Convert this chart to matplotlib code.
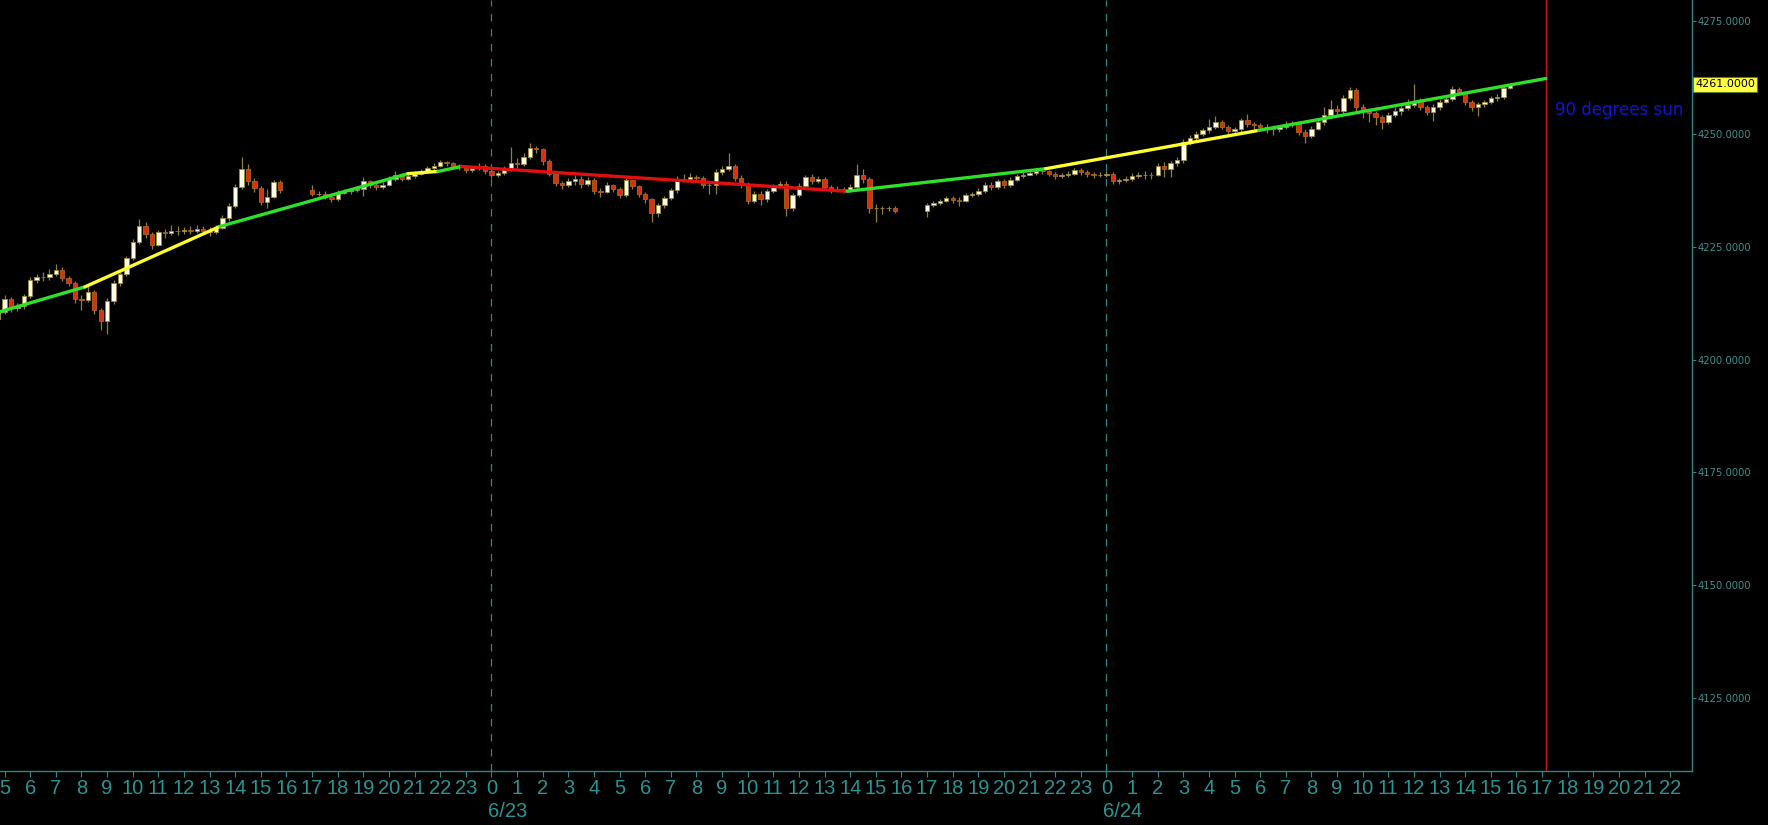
import numpy as np
import pandas as pd
import matplotlib.pyplot as plt

# 15-minute bars, time in hours counted from 6/22 00:00
bar_start = 4.75
bar_step = 0.25
first_open = 4209.0

nan = np.nan
closes = [
    4210.5, 4213.5, 4211.5, 4211.8, 4214.0, 4217.6, 4218.3, 4218.2, 4219.0,  # 4:45-6:45
    4219.8, 4218.0, 4217.0, 4213.5, 4213.3, 4215.0, 4211.0, 4208.5,  # 7-8
    4213.0, 4217.0, 4219.0, 4222.5, 4226.1, 4229.6, 4227.8, 4225.5,  # 9-10
    4228.2, 4228.0, 4228.6, 4228.4, 4228.7, 4228.5, 4229.0, 4228.6,  # 11-12
    4228.2, 4229.2, 4231.3, 4234.0, 4238.3, 4242.3, 4239.5, 4238.0,  # 13-14
    4234.9, 4236.0, 4239.4, 4237.5, nan, nan, nan, nan,  # 15-16
    4236.8, 4236.8, 4236.0, 4235.6, 4237.0, 4237.3, 4237.5, 4237.8,  # 17-18
    4239.5, 4238.8, 4238.3, 4238.8, 4240.0, 4241.0, 4240.1, 4240.6,  # 19-20
    4241.2, 4241.8, 4242.5, 4243.0, 4243.8, 4243.5, 4242.8, 4242.7,  # 21-22
    4242.0, 4242.4, 4243.0, 4241.8, 4241.0, 4241.3, 4242.3, 4243.5,  # 23-0 (6/23)
    4243.4, 4245.0, 4246.8, 4246.6, 4244.0, 4241.2, 4239.2, 4238.8,  # 1-2
    4239.6, 4240.0, 4239.0, 4239.9, 4237.3, 4237.2, 4238.6, 4237.8,  # 3-4
    4236.4, 4239.7, 4238.4, 4236.8, 4235.5, 4232.4, 4234.2, 4235.8,  # 5-6
    4237.5, 4240.1, 4240.1, 4240.5, 4240.2, 4238.8, 4238.8, 4241.6,  # 7-8
    4242.3, 4242.9, 4240.2, 4238.8, 4235.2, 4236.8, 4235.5, 4237.4,  # 9-10
    4238.4, 4238.9, 4233.5, 4236.4, 4238.5, 4240.4, 4239.5, 4240.0,  # 11-12
    4238.2, 4237.5, 4237.8, 4237.6, 4238.2, 4241.0, 4240.0, 4233.5,  # 13-14
    4233.5, 4233.5, 4233.5, 4233.0, nan, nan, nan, nan,  # 15-16
    4234.2, 4234.6, 4235.1, 4235.7, 4235.3, 4235.2, 4236.4, 4236.6,  # 17-18
    4237.4, 4238.8, 4238.2, 4239.5, 4238.6, 4239.9, 4240.6, 4241.0,  # 19-20
    4241.4, 4241.8, 4241.8, 4241.2, 4240.6, 4240.8, 4241.2, 4242.0,  # 21-22
    4241.6, 4241.1, 4240.9, 4241.0, 4241.2, 4239.6, 4239.7, 4240.1,  # 23-0 (6/24)
    4240.7, 4241.0, 4241.0, 4240.9, 4243.0, 4242.2, 4243.5, 4244.2,  # 1-2
    4248.2, 4249.2, 4250.0, 4250.8, 4251.5, 4252.7, 4251.6, 4250.6,  # 3-4
    4251.0, 4253.0, 4252.2, 4251.9, 4251.6, 4251.6, 4251.0, 4251.6,  # 5-6
    4252.3, 4252.3, 4250.5, 4249.5, 4251.2, 4252.6, 4254.2, 4255.5,  # 7-8
    4255.0, 4258.0, 4259.7, 4256.0, 4255.0, 4254.6, 4253.8, 4252.7,  # 9-10
    4254.3, 4255.2, 4255.8, 4256.5, 4257.3, 4256.0, 4254.8, 4256.0,  # 11-12
    4257.1, 4257.8, 4260.0, 4259.2, 4257.1, 4256.0, 4256.6, 4257.0,  # 13-14
    4257.9, 4258.2, 4260.2, 4260.8,  # 15
]
highs = [
    4212.2, 4214.2, 4213.9, 4212.6, 4214.6, 4218.2, 4219.0, 4219.4, 4220.0,
    4221.2, 4220.6, 4218.5, 4217.4, 4214.2, 4216.4, 4215.5, 4211.5,
    4213.6, 4217.6, 4219.5, 4223.0, 4226.8, 4231.2, 4230.4, 4228.3,
    4228.8, 4229.0, 4229.8, 4229.5, 4229.4, 4229.6, 4229.8, 4229.5,
    4229.3, 4229.8, 4232.0, 4234.8, 4238.9, 4244.9, 4243.4, 4240.2,
    4238.5, 4237.9, 4239.9, 4239.8, nan, nan, nan, nan,
    4238.6, 4237.4, 4237.3, 4236.5, 4237.6, 4237.9, 4238.0, 4238.4,
    4240.4, 4239.8, 4239.2, 4239.4, 4240.6, 4241.7, 4241.3, 4241.2,
    4241.8, 4242.3, 4243.0, 4243.6, 4244.3, 4244.1, 4243.7, 4243.3,
    4243.1, 4242.9, 4243.6, 4243.3, 4242.2, 4241.9, 4242.9, 4247.1,
    4244.6, 4245.7, 4247.9, 4247.4, 4246.9, 4244.4, 4241.6, 4239.6,
    4240.3, 4240.9, 4240.6, 4240.5, 4240.2, 4238.0, 4239.3, 4239.0,
    4238.2, 4240.4, 4239.9, 4238.7, 4237.2, 4235.8, 4234.8, 4236.3,
    4238.1, 4240.6, 4241.2, 4241.4, 4241.0, 4240.6, 4239.5, 4242.2,
    4243.0, 4245.7, 4243.4, 4240.8, 4239.4, 4237.4, 4237.4, 4237.9,
    4239.0, 4239.5, 4239.5, 4236.9, 4239.1, 4241.0, 4241.2, 4240.7,
    4240.5, 4238.6, 4238.4, 4238.3, 4238.9, 4243.4, 4242.2, 4240.5,
    4234.4, 4234.0, 4234.1, 4234.0, nan, nan, nan, nan,
    4234.8, 4235.1, 4235.6, 4236.3, 4236.2, 4236.0, 4237.0, 4237.2,
    4238.0, 4239.4, 4239.3, 4240.0, 4240.0, 4240.5, 4241.2, 4241.6,
    4242.0, 4242.5, 4242.3, 4242.1, 4241.6, 4241.4, 4241.8, 4242.5,
    4242.5, 4242.0, 4241.6, 4241.6, 4241.8, 4241.6, 4240.3, 4240.7,
    4241.3, 4241.6, 4241.9, 4241.6, 4243.6, 4243.7, 4244.0, 4244.8,
    4248.8, 4249.8, 4250.6, 4251.4, 4253.4, 4254.0, 4253.0, 4252.0,
    4251.6, 4253.6, 4254.4, 4252.6, 4252.5, 4252.2, 4252.0, 4252.1,
    4252.9, 4252.9, 4252.9, 4251.0, 4251.8, 4253.2, 4256.0, 4257.5,
    4256.4, 4258.7, 4260.5, 4260.3, 4256.6, 4255.8, 4255.2, 4254.3,
    4254.9, 4255.9, 4256.4, 4257.8, 4261.0, 4258.0, 4256.5, 4256.6,
    4257.7, 4258.3, 4260.6, 4260.4, 4259.6, 4257.5, 4257.2, 4257.6,
    4258.4, 4258.8, 4260.7, 4261.3,
]
lows = [
    4208.2, 4210.0, 4210.6, 4210.8, 4211.3, 4213.6, 4217.0, 4217.5, 4217.6,
    4218.5, 4217.5, 4216.4, 4212.6, 4211.0, 4212.8, 4210.2, 4206.5,
    4205.7, 4212.3, 4216.4, 4218.5, 4222.0, 4225.6, 4227.0, 4224.6,
    4225.2, 4227.0, 4227.5, 4227.6, 4227.9, 4227.8, 4228.0, 4227.9,
    4227.4, 4227.8, 4228.9, 4230.6, 4233.5, 4237.8, 4238.8, 4237.2,
    4234.2, 4233.5, 4235.8, 4236.9, nan, nan, nan, nan,
    4236.2, 4236.2, 4235.6, 4235.0, 4235.2, 4236.6, 4236.8, 4237.1,
    4236.2, 4238.0, 4237.6, 4237.9, 4238.5, 4239.6, 4239.5, 4239.7,
    4240.2, 4240.8, 4241.4, 4242.1, 4242.6, 4242.9, 4242.2, 4242.0,
    4241.4, 4241.5, 4242.0, 4241.2, 4240.3, 4240.5, 4240.9, 4241.8,
    4242.4, 4243.0, 4244.5, 4245.8, 4243.2, 4240.6, 4238.5, 4237.8,
    4238.2, 4238.7, 4238.1, 4238.4, 4236.6, 4236.0, 4236.9, 4237.2,
    4235.8, 4236.0, 4237.7, 4236.1, 4234.8, 4230.5, 4231.6, 4233.6,
    4235.3, 4237.0, 4239.5, 4239.6, 4239.4, 4238.1, 4236.6, 4236.8,
    4241.0, 4241.8, 4239.5, 4238.1, 4234.4, 4234.6, 4234.2, 4235.0,
    4237.0, 4238.0, 4231.9, 4233.0, 4236.0, 4238.0, 4239.0, 4239.2,
    4237.6, 4237.0, 4237.2, 4237.0, 4237.2, 4237.9, 4239.2, 4232.4,
    4230.5, 4232.3, 4232.9, 4232.4, nan, nan, nan, nan,
    4231.6, 4233.8, 4234.3, 4234.9, 4234.7, 4234.0, 4234.9, 4236.0,
    4236.2, 4237.0, 4237.6, 4237.8, 4238.1, 4238.3, 4239.6, 4240.2,
    4240.8, 4241.0, 4241.2, 4240.7, 4240.1, 4240.2, 4240.4, 4240.9,
    4241.0, 4240.5, 4240.3, 4240.4, 4240.5, 4239.0, 4239.0, 4239.3,
    4239.6, 4240.2, 4240.1, 4240.0, 4240.6, 4240.5, 4240.5, 4243.0,
    4243.6, 4247.6, 4248.7, 4249.6, 4250.3, 4251.0, 4251.0, 4250.0,
    4249.9, 4250.4, 4251.6, 4251.2, 4250.9, 4250.2, 4249.8, 4250.5,
    4251.0, 4251.5, 4249.8, 4247.9, 4249.0, 4250.8, 4252.0, 4253.6,
    4254.0, 4254.3, 4257.5, 4255.0, 4253.6, 4252.6, 4252.0, 4251.0,
    4252.2, 4253.7, 4254.3, 4255.3, 4256.0, 4255.4, 4254.2, 4252.8,
    4255.4, 4256.8, 4257.4, 4258.6, 4256.5, 4255.0, 4254.0, 4256.0,
    4256.6, 4257.4, 4257.8, 4259.9,
]

# hand-drawn trend line (vertices in hours / price) and colour of each leg
trend_hours = [4.82, 8.13, 13.40, 20.74, 21.91, 22.83, 37.88, 45.63, 53.94, 65.15]
trend_prices = [4210.6, 4216.1, 4229.5, 4241.2, 4241.7, 4242.8, 4237.3, 4242.3, 4250.8, 4262.3]
trend_colors = ['#2fe02a', '#ffff30', '#2fe02a', '#ffff30', '#2fe02a',
                '#e01010', '#2fe02a', '#ffff30', '#2fe02a']

day_breaks = [24, 48]
day_labels = ['6/23', '6/24']
last_price = 4261.0
event_hour = 65.15
event_text = '90 degrees sun'
y_ticks = [4125, 4150, 4175, 4200, 4225, 4250, 4275]

teal = '#2f8585'
label_teal = '#2a9494'
axis_font = ['Liberation Sans', 'DejaVu Sans']

c = np.array(closes)
h = np.array(highs)
l = np.array(lows)
x = bar_start + bar_step * np.arange(len(c))
o = pd.Series(c).ffill().shift(1).fillna(first_open).to_numpy()

valid = ~np.isnan(c)
up = valid & (c >= o)
down = valid & (c < o)

fig = plt.figure(figsize=(17.68, 8.25), dpi=100, facecolor='black')
ax = fig.add_axes([0, 0.0655, 0.957, 0.9345])
ax.set_facecolor('black')

for d in day_breaks:
    ax.axvline(d, color=teal, lw=0.9, ls=(0, (6, 6)), zorder=1)

ax.vlines(x[valid], l[valid], h[valid], color='#8f8035', lw=0.9, zorder=2)
ax.bar(x[up], (c - o)[up], bottom=o[up], width=0.17, color='#fffbe4',
       edgecolor='#9c8a3c', linewidth=0.6, zorder=3)
ax.bar(x[down], (o - c)[down], bottom=c[down], width=0.17, color='#d8320c',
       edgecolor='#a8641e', linewidth=0.6, zorder=3)

for i, col in enumerate(trend_colors):
    ax.plot(trend_hours[i:i + 2], trend_prices[i:i + 2], color=col, lw=2.4,
            solid_capstyle='round', zorder=4)

ax.axvline(event_hour, color='#c81818', lw=1.0, zorder=2)
ax.text(event_hour + 0.37, 4255.3, event_text, color='#1212d0', fontsize=12,
        va='center', ha='left')

ax.set_xlim(4.82, 70.85)
ax.set_ylim(4108.8, 4279.7)

hours = np.arange(5, 71)
ax.set_xticks(hours)
ax.set_xticklabels([str(v % 24) for v in hours], family=axis_font, fontsize=14.5)
ax.tick_params(axis='x', colors=teal, length=4, width=0.8, pad=2, labelcolor=label_teal)
for d, lab in zip(day_breaks, day_labels):
    ax.annotate(lab, xy=(d, 0), xycoords=('data', 'axes fraction'),
                xytext=(-3, -41), textcoords='offset pixels', ha='left', va='center',
                family=axis_font, fontsize=14.5, color=label_teal, annotation_clip=False)

ax.yaxis.tick_right()
ax.set_yticks(y_ticks)
ax.set_yticklabels([f'{v:.4f}' for v in y_ticks], fontsize=7.2)
ax.tick_params(axis='y', colors=teal, length=3, width=0.8, pad=1, labelcolor='#3f8f8f')

for side in ['top', 'left']:
    ax.spines[side].set_visible(False)
for side in ['right', 'bottom']:
    ax.spines[side].set_color(teal)
    ax.spines[side].set_linewidth(1.0)

ax.annotate(f'{last_price:.4f}', xy=(1, last_price), xycoords=('axes fraction', 'data'),
            xytext=(3, 0), textcoords='offset pixels', ha='left', va='center',
            fontsize=8, color='black', annotation_clip=False,
            bbox=dict(boxstyle='square,pad=0.2', fc='#ffff40', ec='#5f7a20', lw=0.8))

fig.savefig('out.png', dpi=100, facecolor='black')
